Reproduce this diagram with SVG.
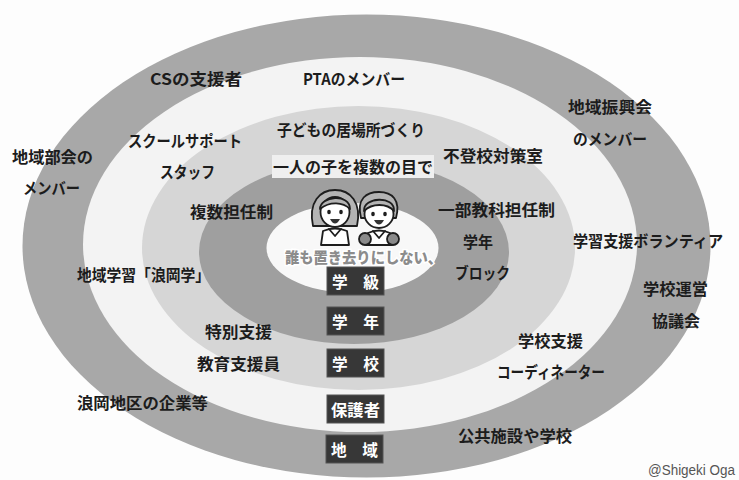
<svg xmlns="http://www.w3.org/2000/svg" width="739" height="480" viewBox="0 0 739 480">
  <style>
    .lbl { font-family: "Noto Sans CJK JP", "Noto Sans", sans-serif; font-weight: 700; font-size: 16px; fill: #1c1c1c; text-anchor: middle; dominant-baseline: central; }
    .tag { font-family: "Noto Sans CJK JP", "Noto Sans", sans-serif; font-weight: 700; font-size: 16px; fill: #ffffff; text-anchor: middle; dominant-baseline: central; }
    .tagbox { fill: #373737; stroke: #555555; stroke-width: 1; }
    .line { stroke: #1e1e1e; stroke-width: 1.8; stroke-linejoin: round; stroke-linecap: round; }
    .hair { fill: #b4b4b4; }
    .skin { fill: #ffffff; }
  </style>

  <rect width="739" height="480" fill="#fdfdfd"/>

  <!-- concentric rings, outermost first -->
  <g id="ring-community">
    <ellipse cx="366.5" cy="246" rx="344" ry="231.5" fill="#a8a8a8"/>
  </g>
  <g id="ring-guardians">
    <ellipse cx="360" cy="244.5" rx="277" ry="187.5" fill="#f3f3f3"/>
  </g>
  <g id="ring-school">
    <ellipse cx="358.5" cy="248" rx="216.5" ry="142" fill="#d6d6d6"/>
  </g>
  <g id="ring-grade">
    <ellipse cx="354" cy="252" rx="155" ry="92" fill="#9f9f9f"/>
  </g>
  <g id="ring-class">
    <ellipse cx="352.5" cy="248" rx="86" ry="45" fill="#f8f8f8"/>
  </g>

  <!-- outer ring: community -->
  <g id="cs-supporters"><text class="lbl" x="196" y="78" textLength="92" lengthAdjust="spacingAndGlyphs">CSの支援者</text></g>
  <g id="district-members">
    <text class="lbl" x="52.5" y="156" textLength="81" lengthAdjust="spacingAndGlyphs">地域部会の</text>
    <text class="lbl" x="51.5" y="187" textLength="57" lengthAdjust="spacingAndGlyphs">メンバー</text>
  </g>
  <g id="promotion-members">
    <text class="lbl" x="610" y="106" textLength="84" lengthAdjust="spacingAndGlyphs">地域振興会</text>
    <text class="lbl" x="610" y="138" textLength="74" lengthAdjust="spacingAndGlyphs">のメンバー</text>
  </g>
  <g id="local-studies"><text class="lbl" x="143.5" y="274" textLength="133" lengthAdjust="spacingAndGlyphs">地域学習「浪岡学」</text></g>
  <g id="school-council">
    <text class="lbl" x="675.5" y="288" textLength="65" lengthAdjust="spacingAndGlyphs">学校運営</text>
    <text class="lbl" x="676" y="320" textLength="48" lengthAdjust="spacingAndGlyphs">協議会</text>
  </g>
  <g id="local-companies"><text class="lbl" x="142.5" y="402" textLength="131" lengthAdjust="spacingAndGlyphs">浪岡地区の企業等</text></g>
  <g id="public-facilities"><text class="lbl" x="515" y="435" textLength="114" lengthAdjust="spacingAndGlyphs">公共施設や学校</text></g>

  <!-- second ring: guardians -->
  <g id="pta-members"><text class="lbl" x="354" y="78" textLength="102" lengthAdjust="spacingAndGlyphs">PTAのメンバー</text></g>
  <g id="support-staff">
    <text class="lbl" x="185" y="140" textLength="114" lengthAdjust="spacingAndGlyphs">スクールサポート</text>
    <text class="lbl" x="187.5" y="171" textLength="55" lengthAdjust="spacingAndGlyphs">スタッフ</text>
  </g>
  <g id="learning-volunteers"><text class="lbl" x="648" y="240" textLength="150" lengthAdjust="spacingAndGlyphs">学習支援ボランティア</text></g>
  <g id="school-coordinator">
    <text class="lbl" x="550.5" y="340" textLength="65" lengthAdjust="spacingAndGlyphs">学校支援</text>
    <text class="lbl" x="551" y="371" textLength="108" lengthAdjust="spacingAndGlyphs">コーディネーター</text>
  </g>

  <!-- third ring: school -->
  <g id="place-for-children"><text class="lbl" x="351" y="129" textLength="148" lengthAdjust="spacingAndGlyphs">子どもの居場所づくり</text></g>
  <g id="many-eyes">
    <rect x="272" y="155" width="162" height="23" fill="#efefef"/>
    <text class="lbl" x="353" y="166" textLength="160" lengthAdjust="spacingAndGlyphs">一人の子を複数の目で</text>
  </g>
  <g id="truancy-room"><text class="lbl" x="493" y="155" textLength="100" lengthAdjust="spacingAndGlyphs">不登校対策室</text></g>
  <g id="special-support">
    <text class="lbl" x="238.5" y="331" textLength="67" lengthAdjust="spacingAndGlyphs">特別支援</text>
    <text class="lbl" x="238.5" y="363" textLength="83" lengthAdjust="spacingAndGlyphs">教育支援員</text>
  </g>

  <!-- fourth ring: grade -->
  <g id="team-teaching"><text class="lbl" x="231.5" y="211" textLength="83" lengthAdjust="spacingAndGlyphs">複数担任制</text></g>
  <g id="subject-teaching"><text class="lbl" x="496.5" y="209" textLength="117" lengthAdjust="spacingAndGlyphs">一部教科担任制</text></g>
  <g id="grade-block">
    <text class="lbl" x="478" y="241" textLength="30" lengthAdjust="spacingAndGlyphs">学年</text>
    <text class="lbl" x="482.5" y="272" textLength="55" lengthAdjust="spacingAndGlyphs">ブロック</text>
  </g>

  <!-- centre: two children -->
  <g id="children">
    <!-- girl -->
    <path class="line hair" d="M313,226 C308,202 320,190 335,190 C350,190 362,202 357,226 Z"/>
    <path class="line skin" d="M321,245 L323,231 Q335,226 347,231 L349,245 Z"/>
    <path class="line" d="M329,229 L335,236 L341,229" fill="none"/>
    <ellipse class="line skin" cx="335" cy="212" rx="14.5" ry="15"/>
    <path class="line hair" d="M320,209 C320,196 350,193 350,209 C343,202 330,201 320,209 Z"/>
    <ellipse cx="329" cy="212" rx="1.8" ry="2.3" fill="#1e1e1e"/>
    <ellipse cx="341" cy="212" rx="1.8" ry="2.3" fill="#1e1e1e"/>
    <path d="M330,219 Q335,228 340,219 Z" fill="#333333"/>
    <!-- boy -->
    <path class="line hair" d="M361,218 C356,198 367,192 379,192 C392,192 401,200 396,218 Z"/>
    <path class="line skin" d="M366,245 L368,233 Q379,228 390,233 L392,245 Z"/>
    <path class="line" d="M373,231 L379,238 L385,231" fill="none"/>
    <ellipse class="line skin" cx="379" cy="214" rx="14.5" ry="14"/>
    <path class="line hair" d="M364,211 C363,197 395,195 394,211 C387,203 372,203 364,211 Z"/>
    <ellipse cx="373" cy="214" rx="1.8" ry="2.3" fill="#1e1e1e"/>
    <ellipse cx="385" cy="214" rx="1.8" ry="2.3" fill="#1e1e1e"/>
    <path d="M374,220 Q379,229 384,220 Z" fill="#333333"/>
    <circle class="line" cx="365" cy="239" r="6" fill="#8a8a8a"/>
    <circle class="line" cx="393" cy="239" r="6" fill="#8a8a8a"/>
  </g>
  <g id="motto">
    <text x="363.5" y="256" textLength="157" lengthAdjust="spacingAndGlyphs" font-family="'Noto Sans CJK JP', 'Noto Sans', sans-serif" font-weight="900" font-size="15" fill="#8c8c8c" stroke="#ffffff" stroke-width="3" paint-order="stroke" text-anchor="middle" dominant-baseline="central">誰も置き去りにしない、</text>
  </g>

  <!-- level tags -->
  <g id="tag-class">
    <rect class="tagbox" x="327" y="267" width="57" height="28"/>
    <text class="tag" x="355.5" y="281" textLength="47" lengthAdjust="spacingAndGlyphs">学　級</text>
  </g>
  <g id="tag-grade">
    <rect class="tagbox" x="327" y="307" width="57" height="28"/>
    <text class="tag" x="355.5" y="321" textLength="47" lengthAdjust="spacingAndGlyphs">学　年</text>
  </g>
  <g id="tag-school">
    <rect class="tagbox" x="327" y="349" width="57" height="28"/>
    <text class="tag" x="355.5" y="363" textLength="47" lengthAdjust="spacingAndGlyphs">学　校</text>
  </g>
  <g id="tag-guardians">
    <rect class="tagbox" x="327" y="395" width="57" height="28"/>
    <text class="tag" x="355.5" y="409" textLength="49" lengthAdjust="spacingAndGlyphs">保護者</text>
  </g>
  <g id="tag-community">
    <rect class="tagbox" x="326" y="435" width="57" height="28"/>
    <text class="tag" x="354.5" y="449" textLength="47" lengthAdjust="spacingAndGlyphs">地　域</text>
  </g>

  <g id="credit">
    <text x="691.5" y="470" textLength="87" lengthAdjust="spacingAndGlyphs" font-family="'Liberation Sans', Arial, sans-serif" font-size="14" fill="#555555" text-anchor="middle" dominant-baseline="central">@Shigeki Oga</text>
  </g>
</svg>
